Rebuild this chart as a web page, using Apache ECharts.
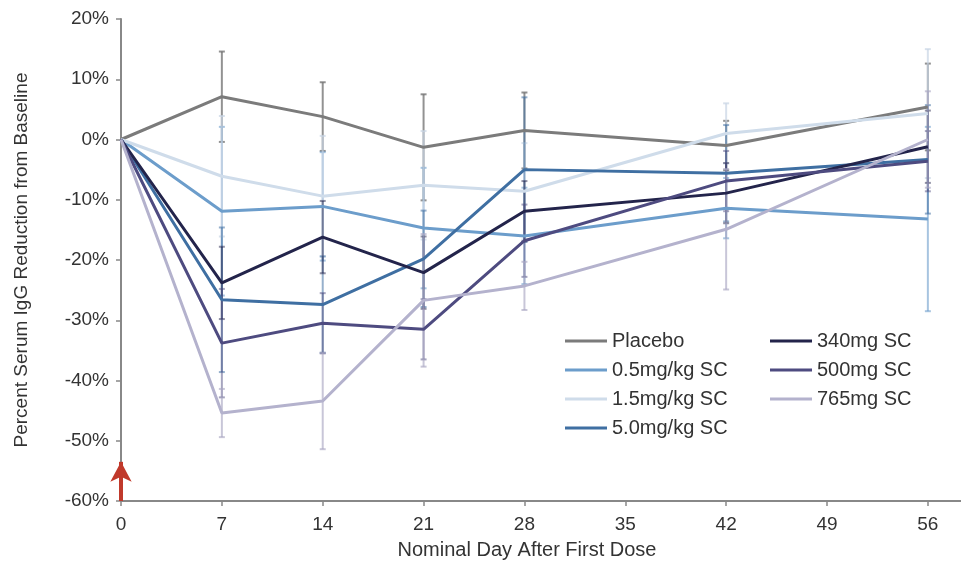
<!DOCTYPE html>
<html>
<head>
<meta charset="utf-8">
<script src="https://cdn.jsdelivr.net/npm/echarts@6/dist/echarts.min.js"></script>
<style>html,body{margin:0;padding:0;background:#fff}#c{width:961px;height:571px}</style>
</head>
<body>
<div id="c"></div>
<script>
var days = [0, 7, 14, 21, 28, 42, 56];
var xTicks = [0, 7, 14, 21, 28, 35, 42, 49, 56];
var yTicks = [-60, -50, -40, -30, -20, -10, 0, 10, 20];
var seriesNames = ['Placebo', '0.5mg/kg SC', '1.5mg/kg SC', '5.0mg/kg SC', '340mg SC', '500mg SC', '765mg SC'];
var placebo   = [0, 7.1, 3.8, -1.3, 1.5, -1.0, 5.4];
var placeboErr= [0, 7.5, 5.7, 8.8, 6.3, 4.1, 7.2];
var mgkg05    = [0, -11.9, -11.1, -14.7, -16.0, -11.4, -13.2];
var mgkg05Err = [0, 14, 9, 10, 8, 5, 15.3];
var mgkg15    = [0, -6.1, -9.4, -7.6, -8.6, 1.0, 4.3];
var mgkg15Err = [0, 10, 10, 9, 8, 5, 10.7];
var mgkg50    = [0, -26.6, -27.4, -19.8, -5.0, -5.6, -3.3];
var mgkg50Err = [0, 12, 8, 8, 12, 8, 9];
var mg340     = [0, -23.8, -16.2, -22.1, -11.9, -8.9, -1.2];
var mg340Err  = [0, 6, 6, 6, 5, 5, 6];
var mg500     = [0, -33.8, -30.5, -31.5, -16.8, -6.9, -3.6];
var mg500Err  = [0, 9, 5, 5, 6, 5, 5];
var mg765     = [0, -45.4, -43.4, -26.7, -24.3, -14.9, 0];
var mg765Err  = [0, 4, 8, 11, 4, 10, 8];
var doseArrow = [[0, -60], [0, -53.5]];

var means = [placebo, mgkg05, mgkg15, mgkg50, mg340, mg500, mg765];
var errs = [placeboErr, mgkg05Err, mgkg15Err, mgkg50Err, mg340Err, mg500Err, mg765Err];
var colors = ['#7b7b7b', '#6c9dcb', '#cfdcea', '#3f6fa2', '#23244b', '#4e4b80', '#b4b2cd'];
var errColors = ['rgba(110,110,110,0.75)', 'rgba(108,157,203,0.6)', 'rgba(200,212,228,0.7)', 'rgba(63,111,162,0.55)', 'rgba(35,36,75,0.5)', 'rgba(78,75,128,0.5)', 'rgba(170,168,195,0.65)'];

var chart = echarts.init(document.getElementById('c'));
var series = [];
means.forEach(function (m, i) {
  var data = days.map(function (d, j) { return [d, m[j] - errs[i][j], m[j] + errs[i][j]]; }).filter(function (r, j) { return errs[i][j] > 0; });
  series.push({
    type: 'custom',
    name: seriesNames[i] + ' err',
    data: data,
    z: 1,
    silent: true,
    encode: { x: 0, y: [1, 2] },
    renderItem: function (params, api) {
      var lo = api.coord([api.value(0), api.value(1)]);
      var hi = api.coord([api.value(0), api.value(2)]);
      var w = 3;
      var st = { stroke: errColors[i], lineWidth: 2 };
      return {
        type: 'group',
        children: [
          { type: 'line', shape: { x1: lo[0], y1: lo[1], x2: hi[0], y2: hi[1] }, style: st },
          { type: 'line', shape: { x1: lo[0] - w, y1: lo[1], x2: lo[0] + w, y2: lo[1] }, style: st },
          { type: 'line', shape: { x1: hi[0] - w, y1: hi[1], x2: hi[0] + w, y2: hi[1] }, style: st }
        ]
      };
    }
  });
});
means.forEach(function (m, i) {
  series.push({
    type: 'line',
    name: seriesNames[i],
    data: days.map(function (d, j) { return [d, m[j]]; }),
    symbol: 'none',
    z: 3,
    lineStyle: { color: colors[i], width: 3 },
    itemStyle: { color: colors[i] }
  });
});
series.push({
  type: 'line',
  name: 'arrow',
  data: [],
  markLine: {
    silent: true,
    symbol: ['none', 'arrow'],
    symbolSize: [16, 20],
    label: { show: false },
    lineStyle: { color: '#c0392b', width: 4, type: 'solid' },
    data: [[{ coord: doseArrow[0] }, { coord: doseArrow[1] }]]
  }
});

var FF = 'Liberation Sans, Arial, sans-serif';
var legendText = { fontFamily: FF, fontSize: 20, color: '#333' };
chart.setOption({
  animation: false,
  backgroundColor: '#fff',
  color: colors,
  grid: { left: 121, right: 0, top: 19, bottom: 70 },
  legend: [
    { data: seriesNames.slice(0, 4), orient: 'vertical', left: 560, top: 326, icon: 'rect', itemWidth: 42, itemHeight: 3, itemGap: 9, textStyle: legendText, selectedMode: false },
    { data: seriesNames.slice(4), orient: 'vertical', left: 765, top: 326, icon: 'rect', itemWidth: 42, itemHeight: 3, itemGap: 9, textStyle: legendText, selectedMode: false }
  ],
  xAxis: {
    type: 'value', min: 0, max: 58.3,
    name: 'Nominal Day After First Dose', nameLocation: 'middle', nameGap: 39,
    nameTextStyle: { fontFamily: FF, fontSize: 20, color: '#333', padding: [0, 28, 0, 0] },
    axisLine: { show: true, onZero: false, lineStyle: { color: '#888', width: 2 } },
    axisTick: { show: true, length: 5, lineStyle: { color: '#888', width: 1.5 }, customValues: xTicks },
    axisLabel: { fontFamily: FF, fontSize: 19, color: '#333', margin: 14, customValues: xTicks },
    splitLine: { show: false }
  },
  yAxis: {
    type: 'value', min: -60, max: 20, interval: 10,
    name: 'Percent Serum IgG Reduction from Baseline', nameLocation: 'middle', nameGap: 90,
    nameTextStyle: { fontFamily: FF, fontSize: 19, color: '#333' },
    axisLine: { show: true, onZero: false, lineStyle: { color: '#888', width: 2 } },
    axisTick: { show: true, length: 5, lineStyle: { color: '#888', width: 1.5 }, customValues: yTicks },
    axisLabel: { fontFamily: FF, fontSize: 19, color: '#333', margin: 12, customValues: yTicks, formatter: function (v) { return v + '%'; } },
    splitLine: { show: false }
  },
  series: series
});
</script>
</body>
</html>
